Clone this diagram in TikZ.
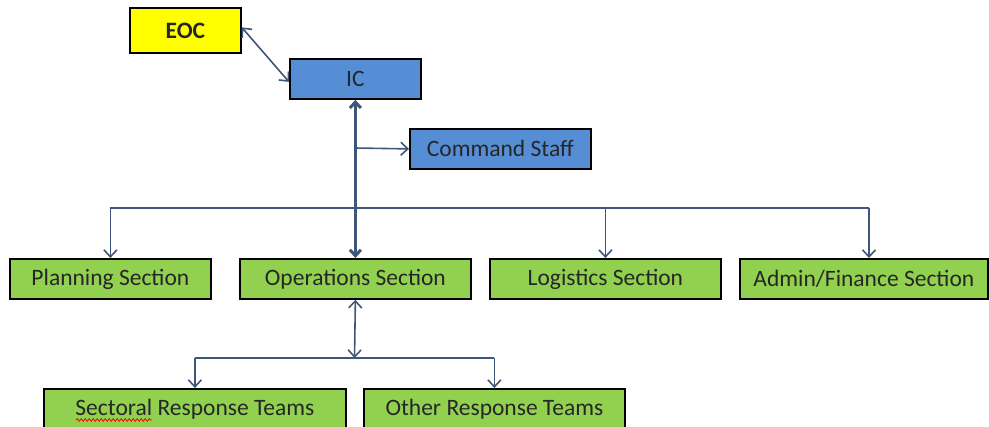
\documentclass[tikz,border=0pt]{standalone}
\usepackage{fontspec}
\setmainfont{Carlito}
\usetikzlibrary{arrows.meta,decorations.pathmorphing}
\definecolor{eocyellow}{RGB}{255,255,0}
\definecolor{icblue}{RGB}{85,142,213}
\definecolor{secgreen}{RGB}{146,208,80}
\definecolor{linec}{RGB}{62,86,122}
\begin{document}
\begin{tikzpicture}[x=1pt,y=-1pt,
  box/.style={draw=black,line width=1.8pt,anchor=north west,inner sep=0pt,
    minimum height=40pt,font=\fontsize{23.5}{28}\selectfont,text=black!85},
  conn/.style={draw=linec,line width=1.6pt,-{Straight Barb[length=7pt,width=13pt]}},
  bconn/.style={draw=linec,line width=1.6pt,{Straight Barb[length=7pt,width=13pt]}-{Straight Barb[length=7pt,width=13pt]}},
  thickconn/.style={draw=linec,line width=3pt,{Straight Barb[length=6pt,width=11pt]}-{Straight Barb[length=6pt,width=11pt]}},
  plain/.style={draw=linec,line width=1.6pt},
  squiggle/.style={draw=red,line width=0.8pt,decorate,decoration={snake,amplitude=1.3pt,segment length=4pt}}]
\useasboundingbox (0,0) rectangle (989,427);
\clip (0,0) rectangle (989,427);
\node[box,fill=eocyellow,minimum width=111pt,minimum height=45pt,font=\fontsize{23.5}{28}\selectfont\bfseries] (eoc) at (129,7) {EOC};
\node[box,fill=icblue,minimum width=131pt] (ic) at (289,58) {IC};
\node[box,fill=icblue,minimum width=181pt] (cs) at (409,128) {Command Staff};
\node[box,fill=secgreen,minimum width=201pt] (plan) at (9,258) {Planning Section};
\node[box,fill=secgreen,minimum width=231pt] (ops) at (239,258) {Operations Section};
\node[box,fill=secgreen,minimum width=231pt] (log) at (489,258) {Logistics Section};
\node[box,fill=secgreen,minimum width=248pt] (adm) at (739,258) {Admin/Finance Section};
\node[box,fill=secgreen,minimum width=302pt] (sec) at (43,388) {Sectoral Response Teams};
\node[box,fill=secgreen,minimum width=261pt] (oth) at (363,388) {Other Response Teams};
\draw[squiggle] (76,420) -- (152,420);
\coordinate (j1) at (354.5,208);
\coordinate (jcs) at (354.5,148);
\coordinate (j2) at (354.5,358);
\coordinate (admtop) at (869,258);
% EOC <-> IC
\draw[bconn] ([yshift=3pt]eoc.east) -- ([yshift=-3pt]ic.west);
% horizontal distribution
\draw[plain] (plan.north |- j1) -- (admtop |- j1);
\draw[conn] (j1 -| plan.north) -- (plan.north);
\draw[conn] (j1 -| log.north) -- (log.north);
\draw[conn] (admtop |- j1) -- (admtop);
% IC <-> Operations (thick)
\draw[thickconn] (ic.south) -- (ops.north);
% Command staff
\draw[conn] (jcs) -- (cs.west);
% Operations to teams
\draw[bconn] (ops.south) -- (j2);
\draw[plain] (j2 -| sec.north) -- (j2 -| oth.north);
\draw[conn] (j2 -| sec.north) -- (sec.north);
\draw[conn] (j2 -| oth.north) -- (oth.north);
\end{tikzpicture}
\end{document}
